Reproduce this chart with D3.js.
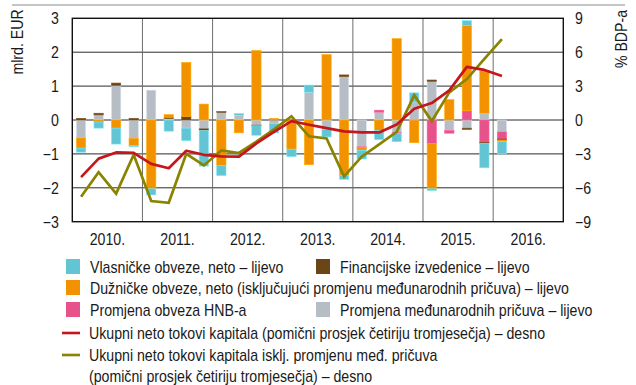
<!DOCTYPE html>
<html>
<head>
<meta charset="utf-8">
<script src="https://cdn.jsdelivr.net/npm/d3@7"></script>
<style>
  html, body { margin: 0; padding: 0; background: #fff; }
  svg { display: block; }
  text { font-family: "Liberation Sans Narrow", "Liberation Sans", Arial, sans-serif; fill: #1a1a1a; }
</style>
</head>
<body>
<svg id="chart" width="636" height="385"></svg>
<script>
// Quarters 2010 Q1 – 2016 Q1 (axis spans full years 2010–2016)
const years = ["2010.", "2011.", "2012.", "2013.", "2014.", "2015.", "2016."];
const quarters = years.flatMap(y => [1, 2, 3, 4].map(q => y + "Q" + q));
const dataQuarters = quarters.slice(0, 25);

// Components, billion EUR (left axis)
const reserves = [ -0.53, 0.15, 1.02, -0.54,   0.88, 0.04, -0.24, -0.26,   0.22, 0.14, -0.15, -0.11,
                    0.00, 0.82, -0.28, 1.28,  -0.79, 0.23, -0.37, 0.53,   1.14, -0.31, -0.24, 0.20,  -0.35];
const hnbLiab  = [  0, 0, 0, 0,   0, 0, 0, 0,   0, 0, 0, 0,   0, 0, 0, 0,
                   -0.03, 0.06, -0.03, -0.02,  -0.70, -0.08, 0.27, -0.66,  -0.21];
const deriv    = [  0.05, 0.05, 0.07, 0.05,   0.00, 0.04, 0.10, -0.05,   0.03, 0.00, -0.02, 0.01,
                    0.00, 0.00, 0.00, 0.05,   0.00, 0.00, 0.00, 0.00,   0.04, 0.00, -0.04, -0.03,  -0.03];
const debt     = [ -0.30, -0.06, -0.24, -0.22,  -2.03, 0.08, 1.60, 0.47,  -1.34, -0.38, 2.05, 0.04,
                   -0.86, -1.32, 1.93, -1.63,  -0.07, -0.31, 2.40, -0.65,  -1.33, 0.60, 2.52, 1.26,  -0.04];
const equity   = [ -0.12, -0.18, -0.47, -0.03,  -0.18, -0.33, -0.37, -1.05,  -0.30, 0.05, -0.28, -0.27,
                   -0.22, 0.21, -0.22, -0.12,  -0.26, -0.27, -0.24, 0.27,  -0.05, 0.00, 0.14, -0.72,  -0.37];

// Four-quarter moving averages, % of GDP (right axis)
const totalFlows = [ -5.05, -3.42, -2.87, -2.90,  -3.88, -4.27, -2.72, -3.08,  -3.22, -3.24, -2.07, -1.05,
                     -0.10, -0.42, -0.72, -1.00,  -1.10, -1.10, -0.40, 1.00,   1.50, 2.62, 4.70, 4.43,  3.90];
const flowsExRes = [ -6.80, -4.62, -6.52, -3.07,  -7.17, -7.33, -2.99, -4.02,  -2.70, -2.92, -1.92, -0.83,
                      0.33, -1.44, -1.64, -5.00,  -3.25, -2.16, -1.05, 2.20,  -0.10, 2.45, 3.62, 5.40,  7.15];

const leftTicks = [-3, -2, -1, 0, 1, 2, 3];
const rightTicks = [-9, -6, -3, 0, 3, 6, 9];

const series = [
  { key: "reserves", values: reserves, color: "#b7bdc4" },
  { key: "hnb",      values: hnbLiab,  color: "#e8528a" },
  { key: "deriv",    values: deriv,    color: "#6a4617" },
  { key: "debt",     values: debt,     color: "#f39200" },
  { key: "equity",   values: equity,   color: "#63c4d3" }
];
const colorOf = Object.fromEntries(series.map(s => [s.key, s.color]));

const rows = dataQuarters.map((q, i) => {
  const r = { q };
  series.forEach(s => r[s.key] = s.values[i]);
  return r;
});

const svg = d3.select("#chart");
const L = 72.3, R = 563.3, T = 18.3, B = 221.7;
const FS = 16, SX = 0.885;   // condensed look: larger size, narrowed horizontally

// text helper: places a horizontally condensed label
function label(parent, x, y, str, anchor = "start", rotate = 0) {
  return parent.append("text")
    .attr("transform", `translate(${x},${y}) rotate(${rotate}) scale(${SX},1)`)
    .attr("text-anchor", anchor).attr("font-size", FS).text(str);
}

const x = d3.scaleBand().domain(quarters).range([L, R]).paddingInner(0.47).paddingOuter(0.235);
const xYear = d3.scaleBand().domain(years).range([L, R]);
const yL = d3.scaleLinear().domain([-3, 3]).range([B, T]);
const yR = d3.scaleLinear().domain([-9, 9]).range([B, T]);

// top rule
svg.append("line").attr("x1", 12).attr("x2", 625).attr("y1", 5).attr("y2", 5)
  .attr("stroke", "#8c8c8c").attr("stroke-width", 1.2);

// horizontal grid
svg.append("g").selectAll("line").data(leftTicks.slice(1, -1)).join("line")
  .attr("x1", L).attr("x2", R)
  .attr("y1", d => yL(d)).attr("y2", d => yL(d))
  .attr("stroke", "#2b2b2b").attr("stroke-width", 1);

// year separators
svg.append("g").selectAll("line").data(years.slice(1)).join("line")
  .attr("x1", d => xYear(d)).attr("x2", d => xYear(d))
  .attr("y1", T).attr("y2", B)
  .attr("stroke", "#6e6e6e").attr("stroke-width", 1);

// stacked bars
const stack = d3.stack().keys(series.map(s => s.key)).offset(d3.stackOffsetDiverging);
const stacked = stack(rows);
svg.append("g").selectAll("g").data(stacked).join("g")
  .attr("fill", d => colorOf[d.key])
  .attr("stroke", d => d3.color(colorOf[d.key]).brighter(0.5))
  .attr("stroke-width", 0.6)
  .selectAll("rect").data(d => d.filter(p => p[1] !== p[0])).join("rect")
  .attr("x", d => x(d.data.q))
  .attr("width", x.bandwidth())
  .attr("y", d => yL(Math.max(d[0], d[1])))
  .attr("height", d => Math.abs(yL(d[0]) - yL(d[1])));

// frame
svg.append("rect").attr("x", L).attr("y", T).attr("width", R - L).attr("height", B - T)
  .attr("fill", "none").attr("stroke", "#111").attr("stroke-width", 1.4);

// lines
const line = d3.line()
  .x((d, i) => x(dataQuarters[i]) + x.bandwidth() / 2)
  .y(d => yR(d));
svg.append("path").datum(flowsExRes).attr("d", line)
  .attr("fill", "none").attr("stroke", "#8a8300").attr("stroke-width", 2.7).attr("stroke-linejoin", "miter");
svg.append("path").datum(totalFlows).attr("d", line)
  .attr("fill", "none").attr("stroke", "#c4161c").attr("stroke-width", 2.7).attr("stroke-linejoin", "round");

// axis labels
const fmt = d3.format("d");
const axes = svg.append("g");
leftTicks.forEach(t => label(axes, 59, yL(t) + 6, fmt(t), "end"));
rightTicks.forEach(t => label(axes, 575, yR(t) + 6, fmt(t), "start"));
years.forEach(y => label(axes, xYear(y) + xYear.bandwidth() / 2, 245, y, "middle"));

label(svg, 23, 42, "mlrd. EUR", "middle", -90);
label(svg, 627, 39, "% BDP-a", "middle", -90);

// legend
const lg = svg.append("g");
const legendItems = [
  { type: "box",  color: colorOf.equity,   x: 66,  y: 267, label: "Vlasničke obveze, neto – lijevo" },
  { type: "box",  color: colorOf.deriv,    x: 316, y: 267, label: "Financijske izvedenice – lijevo" },
  { type: "box",  color: colorOf.debt,     x: 66,  y: 288, label: "Dužničke obveze, neto (isključujući promjenu međunarodnih pričuva) – lijevo" },
  { type: "box",  color: colorOf.hnb,      x: 66,  y: 310, label: "Promjena obveza HNB-a" },
  { type: "box",  color: colorOf.reserves, x: 316, y: 310, label: "Promjena međunarodnih pričuva – lijevo" },
  { type: "line", color: "#c4161c",        x: 62,  y: 333, label: "Ukupni neto tokovi kapitala (pomični prosjek četiriju tromjesečja) – desno" },
  { type: "line", color: "#8a8300",        x: 62,  y: 355, label: "Ukupni neto tokovi kapitala isklj. promjenu međ. pričuva" },
  { type: "none", color: null,             x: 62,  y: 376, label: "(pomični prosjek četiriju tromjesečja) – desno" }
];
legendItems.forEach(it => {
  if (it.type === "box") {
    lg.append("rect").attr("x", it.x).attr("y", it.y - 8).attr("width", 14).attr("height", 15).attr("fill", it.color);
  } else if (it.type === "line") {
    lg.append("line").attr("x1", it.x).attr("x2", it.x + 18).attr("y1", it.y).attr("y2", it.y)
      .attr("stroke", it.color).attr("stroke-width", 2.6);
  }
  const tx = it.type === "box" ? it.x + 24 : 89;
  label(lg, tx, it.y + 5.5, it.label, "start");
});
</script>
</body>
</html>
